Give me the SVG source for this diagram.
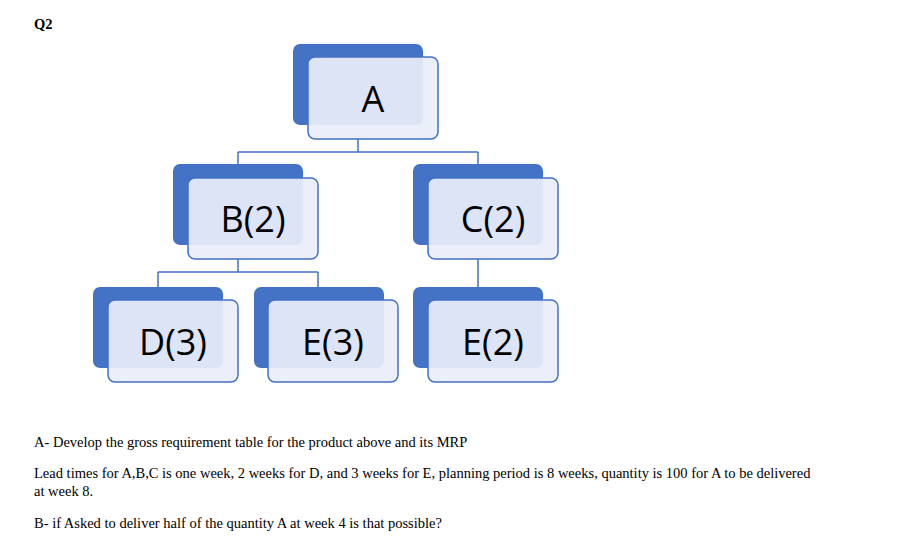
<svg xmlns="http://www.w3.org/2000/svg" width="915" height="546" viewBox="0 0 915 546">
<style>
.bk{fill:#4472C4}
.fr{fill:#E9EEF8;fill-opacity:0.92;stroke:#4472C4;stroke-width:1.5}
.lb{font-family:"Open Sans","DejaVu Sans",sans-serif;font-size:36px;fill:#000;text-anchor:middle}
.tx{font-family:"Liberation Serif",serif;font-size:14.5px;fill:#000}
.cn{stroke:#4472C4;stroke-width:1.5;fill:none}
</style>
<rect width="915" height="546" fill="#fff"/>
<text x="34" y="29" class="tx" font-weight="bold">Q2</text>
<g id="connectors">
<path class="cn" d="M358 139V152M238 152H478M238 152V165M478 152V165M238 259V272M158 272H318M158 272V288M318 272V288M478 259V288"/>
</g>
<g id="A"><rect class="bk" x="293" y="44" width="130" height="81" rx="7"/><rect class="fr" x="308" y="57" width="130" height="82" rx="7"/><text class="lb" x="373" y="112">A</text></g>
<g id="B"><rect class="bk" x="173" y="164" width="130" height="81" rx="7"/><rect class="fr" x="188" y="178" width="130" height="81" rx="7"/><text class="lb" x="253" y="232">B(2)</text></g>
<g id="C"><rect class="bk" x="413" y="164" width="130" height="81" rx="7"/><rect class="fr" x="428" y="178" width="130" height="81" rx="7"/><text class="lb" x="493" y="232">C(2)</text></g>
<g id="D"><rect class="bk" x="93" y="287" width="130" height="81" rx="7"/><rect class="fr" x="108" y="300" width="130" height="82" rx="7"/><text class="lb" x="173" y="355">D(3)</text></g>
<g id="E3"><rect class="bk" x="254" y="287" width="130" height="81" rx="7"/><rect class="fr" x="268" y="300" width="130" height="82" rx="7"/><text class="lb" x="333" y="355">E(3)</text></g>
<g id="E2"><rect class="bk" x="413" y="287" width="130" height="81" rx="7"/><rect class="fr" x="428" y="300" width="130" height="82" rx="7"/><text class="lb" x="493" y="355">E(2)</text></g>
<text class="tx" x="34" y="447">A- Develop the gross requirement table for the product above  and its MRP</text>
<text class="tx" x="34" y="478">Lead times for A,B,C is one week, 2 weeks for D, and 3 weeks for E, planning period is 8 weeks, quantity is 100 for A to be delivered</text>
<text class="tx" x="34" y="496">at week 8.</text>
<text class="tx" x="34" y="528">B- if Asked to deliver half of the quantity A at week 4 is that possible?</text>
</svg>
